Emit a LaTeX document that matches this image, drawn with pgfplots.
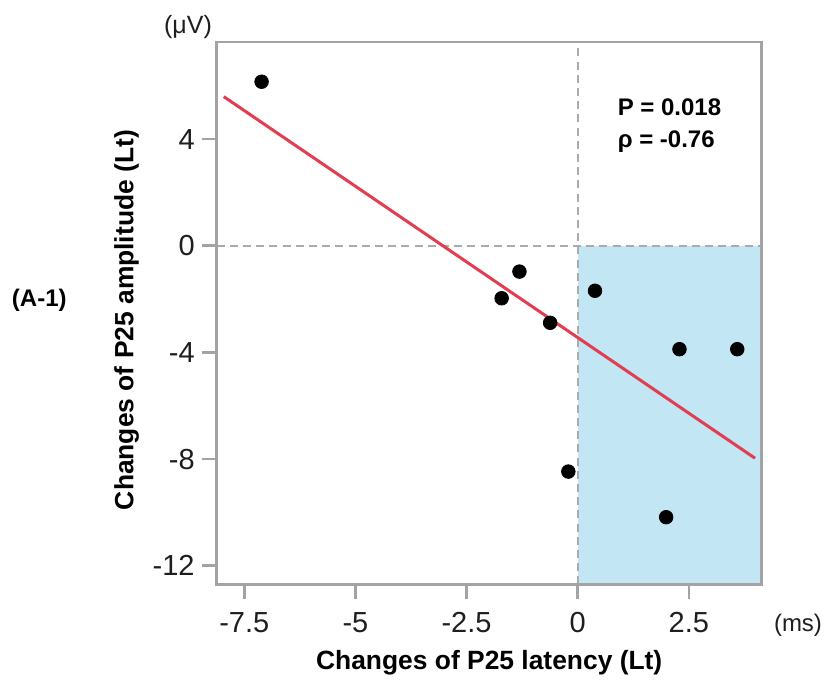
\documentclass[border=0pt]{standalone}
\usepackage{fontspec}
\setmainfont{Liberation Sans}
\usepackage{pgfplots}
\pgfplotsset{compat=1.18}
\definecolor{axgray}{HTML}{A3A3A3}
\definecolor{dashgray}{HTML}{ABABAB}
\definecolor{quadblue}{HTML}{C2E6F3}
\definecolor{fitred}{HTML}{E23D50}
\definecolor{txt}{HTML}{1E1E1E}

\begin{document}
\begin{tikzpicture}
\useasboundingbox (-108.35pt,-49.35pt) rectangle (305.15pt,292.2pt);
\begin{axis}[
  at={(0pt,0pt)}, anchor=south west,
  scale only axis, width=272.5pt, height=271.2pt,
  xmin=-8.12, xmax=4.14, ymin=-12.7, ymax=7.64,
  xtick={-7.5,-5,-2.5,0,2.5}, xticklabels={-7.5,-5,-2.5,0,2.5},
  ytick={-12,-8,-4,0,4}, yticklabels={-12,-8,-4,0,4},
  tick align=outside, major tick length=7.5pt,
  xtick pos=bottom, ytick pos=left,
  axis line style={axgray, line width=1.3pt},
  every tick/.style={axgray, line width=1.3pt},
  tick label style={font=\fontsize{14.5}{16}\selectfont, text=txt},
  xticklabel style={yshift=-3pt},
  axis on top,
  xlabel={\bfseries Changes of P25 latency (Lt)},
  label style={font=\fontsize{13.2}{15}\selectfont, text=black},
  xlabel style={at={(axis description cs:0.5,0)}, anchor=center, yshift=-39.35pt},
  clip=true,
]
% shaded quadrant (x>0, y<0)
\addplot[fill=quadblue, draw=none] coordinates {(0,-12.7) (4.14,-12.7) (4.14,0) (0,0)} -- cycle;
% zero reference lines
\addplot[dashgray, line width=1pt, dash pattern=on 4pt off 2.6pt] coordinates {(-8.12,0) (4.14,0)};
\addplot[dashgray, line width=1pt, dash pattern=on 4pt off 2.6pt] coordinates {(0,-12.7) (0,7.64)};
% regression line
\addplot[fitred, line width=1.5pt] coordinates {(-7.96,5.59) (3.99,-7.97)};
% subjects
\addplot[only marks, mark=*, mark size=3.4pt, black] coordinates {
(-7.11,6.15) (-1.71,-1.97) (-1.31,-0.97) (-0.62,-2.89) (-0.21,-8.47)
(0.39,-1.69) (2.29,-3.88) (3.59,-3.88) (1.99,-10.18)};
\end{axis}
\node[font=\fontsize{13.2}{15}\selectfont\bfseries, rotate=90] at (-45pt,132.15pt) {Changes of P25 amplitude (Lt)};
\node[font=\fontsize{12}{14}\selectfont\bfseries, anchor=west] at (197pt,238.65pt) {P = 0.018};
\node[font=\fontsize{12}{14}\selectfont\bfseries, anchor=west] at (197pt,221.5pt) {ρ = -0.76};
\node[font=\fontsize{12.5}{14}\selectfont, text=txt] at (-14.35pt,278.65pt) {(μV)};
\node[font=\fontsize{12}{14}\selectfont, text=txt] at (290.65pt,-20.35pt) {(ms)};
\node[font=\fontsize{12}{14}\selectfont\bfseries] at (-88.7pt,142pt) {(A-1)};
\end{tikzpicture}
\end{document}
